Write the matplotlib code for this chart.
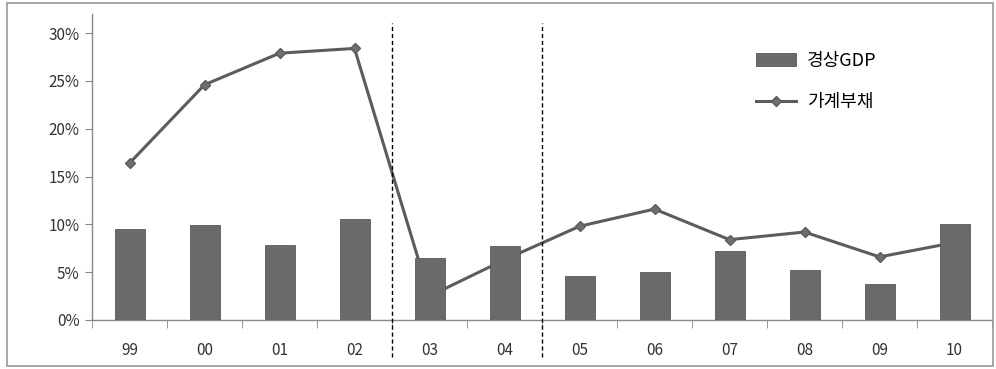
import numpy as np
import matplotlib.pyplot as plt
from matplotlib.patches import Rectangle
from matplotlib.ticker import FuncFormatter

plt.rcParams['font.family'] = ['Noto Sans CJK KR', 'DejaVu Sans']

# data (percent)
years = ['99', '00', '01', '02', '03', '04', '05', '06', '07', '08', '09', '10']
gdp = [9.5, 9.9, 7.8, 10.6, 6.5, 7.7, 4.6, 5.0, 7.2, 5.2, 3.8, 10.0]
debt = [16.4, 24.6, 27.9, 28.4, 2.5, 6.3, 9.8, 11.6, 8.4, 9.2, 6.6, 8.1]
split_at = [3.5, 5.5]

x = np.arange(len(years))

fig = plt.figure(figsize=(9.96, 3.69), dpi=100)
ax = fig.add_axes([92 / 996, 49 / 369, 900 / 996, 306 / 369])

# line sits behind the bars, as in the original
ax.plot(x, debt, color='#5c5c5c', linewidth=2.2, marker='D', markersize=5,
        markerfacecolor='#6e6e6e', markeredgecolor='#5c5c5c', label='가계부채', zorder=2)
ax.bar(x, gdp, width=0.4, color='#6a6a6a', edgecolor='#5a5a5a', linewidth=0.6,
       label='경상GDP', zorder=3)

# dashed separators, running down through the tick labels
for s in split_at:
    ax.axvline(s, ymin=-0.12, ymax=0.97, color='black', linestyle=(0, (3, 2)),
               linewidth=1.0, clip_on=False, zorder=4)

ax.set_xlim(-0.5, len(years) - 0.5)
ax.set_ylim(0, 32)
ax.set_yticks([0, 5, 10, 15, 20, 25, 30])
ax.yaxis.set_major_formatter(FuncFormatter(lambda v, p: '{:d}%'.format(int(v))))

ax.set_xticks(x)
ax.set_xticklabels(years)
ax.set_xticks(np.arange(-0.5, len(years)), minor=True)
ax.tick_params(axis='x', which='major', length=0, pad=16, labelsize=11, colors='#333333')
ax.tick_params(axis='x', which='minor', length=6, direction='out', color='#888888')
ax.tick_params(axis='y', length=5, direction='out', color='#888888', labelsize=11,
               colors='#333333', pad=4)

for side in ['top', 'right']:
    ax.spines[side].set_visible(False)
for side in ['left', 'bottom']:
    ax.spines[side].set_color('#888888')
    ax.spines[side].set_linewidth(1.0)

handles, labels = ax.get_legend_handles_labels()
ax.legend(handles[::-1], labels[::-1], loc='upper left', bbox_to_anchor=(0.72, 0.93),
          frameon=False, fontsize=13, handlelength=2.2, labelspacing=1.3,
          handletextpad=0.6)

# outer frame
fig.patches.append(Rectangle((7 / 996, 3 / 369), 986 / 996, 363 / 369,
                             transform=fig.transFigure, fill=False,
                             edgecolor='#999999', linewidth=1.2))

plt.savefig('out.png', dpi=100)
